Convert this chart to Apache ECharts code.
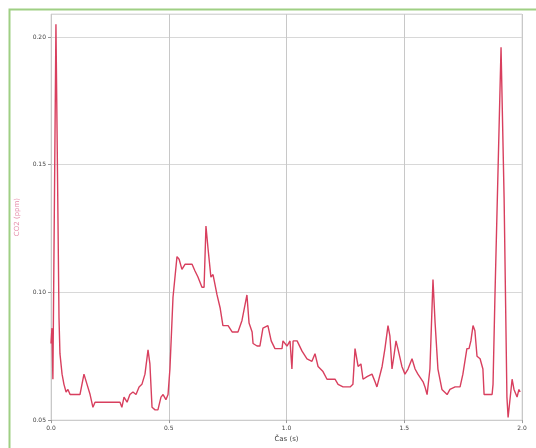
<!DOCTYPE html>
<html>
<head>
<meta charset="utf-8">
<script src="https://cdn.jsdelivr.net/npm/echarts@6/dist/echarts.min.js"></script>
<style>html,body{margin:0;padding:0;background:#fff}#c{width:536px;height:448px}</style>
</head>
<body>
<div id="c"></div>
<script>
// time (s)
const timeS = [0.000,0.004,0.008,0.021,0.034,0.038,0.047,0.055,0.064,0.072,0.081,0.102,0.123,0.140,0.153,0.166,0.178,0.187,0.208,0.293,0.301,0.310,0.323,0.335,0.348,0.361,0.374,0.386,0.399,0.412,0.420,0.429,0.442,0.454,0.467,0.476,0.488,0.497,0.505,0.518,0.535,0.544,0.556,0.569,0.599,0.611,0.624,0.641,0.650,0.658,0.667,0.679,0.688,0.705,0.718,0.730,0.752,0.769,0.794,0.811,0.832,0.841,0.854,0.858,0.875,0.887,0.900,0.921,0.935,0.951,0.981,0.985,1.002,1.015,1.023,1.028,1.045,1.066,1.087,1.108,1.121,1.134,1.155,1.172,1.206,1.219,1.240,1.270,1.282,1.291,1.304,1.316,1.325,1.342,1.363,1.376,1.384,1.406,1.418,1.431,1.439,1.448,1.456,1.465,1.473,1.490,1.503,1.516,1.533,1.546,1.558,1.580,1.588,1.597,1.609,1.622,1.631,1.643,1.660,1.682,1.694,1.716,1.737,1.749,1.766,1.775,1.783,1.792,1.800,1.809,1.822,1.834,1.839,1.873,1.877,1.885,1.911,1.924,1.936,1.941,1.958,1.966,1.979,1.987,1.992];
// CO2 (ppm)
const co2 = [0.080,0.086,0.066,0.205,0.090,0.076,0.068,0.064,0.061,0.062,0.060,0.060,0.060,0.068,0.064,0.060,0.055,0.057,0.057,0.057,0.055,0.059,0.057,0.060,0.061,0.060,0.063,0.064,0.068,0.0775,0.072,0.055,0.054,0.054,0.059,0.060,0.058,0.060,0.070,0.098,0.114,0.113,0.109,0.111,0.111,0.1085,0.106,0.102,0.102,0.126,0.117,0.106,0.107,0.099,0.094,0.087,0.087,0.0845,0.0845,0.089,0.099,0.088,0.0845,0.080,0.079,0.079,0.086,0.087,0.081,0.078,0.078,0.081,0.079,0.081,0.070,0.081,0.081,0.077,0.074,0.073,0.076,0.071,0.069,0.066,0.066,0.064,0.063,0.063,0.064,0.078,0.071,0.072,0.066,0.067,0.068,0.065,0.063,0.071,0.078,0.087,0.083,0.070,0.075,0.081,0.078,0.071,0.068,0.070,0.074,0.070,0.068,0.065,0.063,0.060,0.070,0.105,0.088,0.070,0.062,0.060,0.062,0.063,0.063,0.068,0.078,0.078,0.081,0.087,0.085,0.075,0.074,0.070,0.060,0.060,0.064,0.098,0.196,0.137,0.059,0.051,0.066,0.062,0.059,0.062,0.061];

const xTicks = ['0.0','0.5','1.0','1.5','2.0'];
const yTicks = ['0.05','0.10','0.15','0.20'];

const chart = echarts.init(document.getElementById('c'));
chart.setOption({
  animation: false,
  backgroundColor: '#fff',
  graphic: [{
    type: 'rect', left: 7, top: 7, silent: true,
    shape: {width: 700, height: 700},
    style: {fill: 'none', stroke: '#9fcf84', lineWidth: 2}
  }],
  grid: {left: 51, right: 14, top: 14, bottom: 24, show: true, borderColor: '#dddddd', borderWidth: 1},
  xAxis: {
    type: 'value', min: 0, max: 2, interval: 0.5,
    name: 'Čas (s)', nameLocation: 'middle', nameGap: 14,
    nameTextStyle: {fontSize: 7, color: '#444', fontFamily: 'DejaVu Sans'},
    axisLine: {show: true, lineStyle: {color: '#cccccc'}},
    axisTick: {show: true, length: 3, lineStyle: {color: '#999'}},
    axisLabel: {fontSize: 6, color: '#444', margin: 5, fontFamily: 'DejaVu Sans',
      formatter: v => xTicks[Math.round(v / 0.5)] || ''},
    splitLine: {show: true, lineStyle: {color: '#c8c8c8', width: 1}}
  },
  yAxis: {
    type: 'value', min: 0.05, max: 0.209, interval: 0.05,
    name: 'CO2 (ppm)', nameLocation: 'middle', nameGap: 30,
    nameTextStyle: {fontSize: 7, color: '#e58aa8', fontFamily: 'DejaVu Sans'},
    axisLine: {show: false},
    axisTick: {show: true, length: 3, lineStyle: {color: '#999'}},
    axisLabel: {fontSize: 6, color: '#444', margin: 5, fontFamily: 'DejaVu Sans', showMaxLabel: false,
      formatter: v => { const i = Math.round((v - 0.05) / 0.05); return Math.abs(v - (0.05 + i * 0.05)) < 1e-6 ? (yTicks[i] || '') : ''; }},
    splitLine: {show: true, lineStyle: {color: '#d8d8d8', width: 1}}
  },
  series: [{
    type: 'line',
    data: timeS.map((t, i) => [t, co2[i]]),
    showSymbol: false,
    lineStyle: {color: '#d83f5e', width: 1.4},
    itemStyle: {color: '#d83f5e'}
  }]
});
</script>
</body>
</html>
